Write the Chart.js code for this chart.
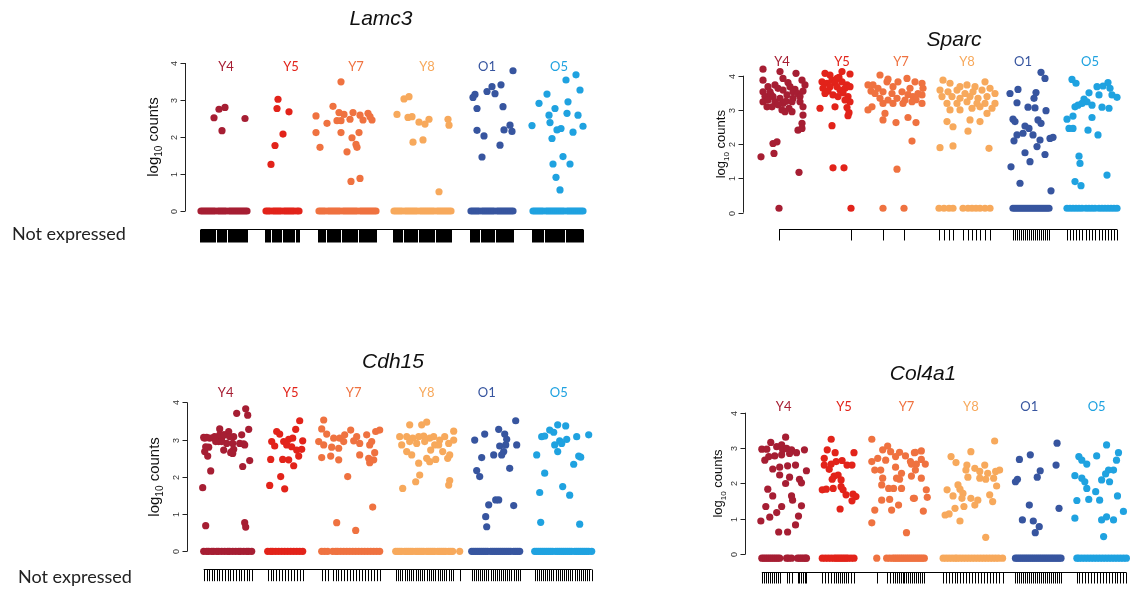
<!DOCTYPE html>
<html>
<head>
<meta charset="utf-8">
<script src="https://cdn.jsdelivr.net/npm/chart.js@4.4.0/dist/chart.umd.min.js"></script>
<style>
body { margin: 0; background: #fff; }
#wrap { position: relative; width: 1130px; height: 592px; overflow: hidden; }
canvas { position: absolute; }
.gene { position: absolute; font: italic 21px "Liberation Sans", Arial, sans-serif; color: #111; transform: translateX(-50%); white-space: nowrap; line-height: 1; }
.ne { position: absolute; font: 18px Lato, "Open Sans", sans-serif; color: #222; line-height: 1; white-space: nowrap; }
</style>
</head>
<body>
<div id="wrap">
  <canvas id="c1" width="600" height="260" style="left:0;top:0"></canvas>
  <canvas id="c2" width="530" height="260" style="left:600px;top:0"></canvas>
  <canvas id="c3" width="600" height="292" style="left:0;top:300px"></canvas>
  <canvas id="c4" width="530" height="292" style="left:600px;top:300px"></canvas>
  <div class="gene" style="left:381px;top:7px">Lamc3</div>
  <div class="gene" style="left:954px;top:28px">Sparc</div>
  <div class="gene" style="left:393px;top:350px">Cdh15</div>
  <div class="gene" style="left:923px;top:362px">Col4a1</div>
  <div class="ne" style="left:12px;top:224px">Not expressed</div>
  <div class="ne" style="left:18px;top:567px">Not expressed</div>
</div>
<script>
// groups and y axis
var groups = ['Y4', 'Y5', 'Y7', 'Y8', 'O1', 'O5'];
var groupColors = ['#a61e33', '#e2231a', '#ef7240', '#f7a95c', '#37559f', '#1fa2e0'];
var yTicks = [0, 1, 2, 3, 4];

// Lamc3: [cell position, log10 counts]
var lamc3Y4 = [[29,2.52],[34,2.75],[40,2.80],[37,2.17],[60,2.50]];
var lamc3Y5 = [[93,3.02],[92,2.77],[104,2.68],[98,2.08],[90,1.77],[86,1.26]];
var lamc3Y7 = [[156,3.49],[148,2.83],[131,2.57],[154,2.66],[159,2.61],[168,2.66],[175,2.59],[183,2.64],[142,2.37],[152,2.44],[156,2.44],[165,2.48],[178,2.46],[187,2.46],[185,2.55],[131,2.12],[156,2.12],[174,2.12],[135,1.72],[167,1.98],[162,1.60],[171,1.80],[172,1.72],[175,0.88],[166,0.80]];
var lamc3Y8 = [[219,3.03],[224,3.09],[212,2.61],[223,2.53],[227,2.55],[234,2.40],[240,2.35],[244,2.48],[263,2.48],[264,2.32],[238,1.92],[228,1.86],[254,0.52]];
var lamc3O1 = [[328,3.79],[316,3.41],[307,3.36],[302,3.23],[310,3.17],[290,3.15],[288,3.07],[292,2.77],[318,2.82],[325,2.32],[319,2.19],[327,2.15],[292,2.18],[299,2.03],[315,1.78],[297,1.46]];
var lamc3O5 = [[391,3.68],[381,3.54],[395,3.27],[362,3.16],[383,2.95],[354,2.91],[370,2.77],[382,2.64],[393,2.59],[364,2.59],[365,2.39],[347,2.31],[376,2.23],[372,2.19],[398,2.29],[388,2.13],[367,1.96],[378,1.47],[368,1.27],[385,1.27],[371,0.91],[375,0.57]];
// Lamc3 not expressed cells (positions)
var lamc3Y4Zero = [16,18,20,22,24,26,28,30,33,35,37,39,41,44,46,48,50,52,54,56,58,60,62];
var lamc3Y5Zero = [81,83,85,88,90,92,94,96,99,101,103,105,107,109,112,114];
var lamc3Y7Zero = [134,136,138,140,143,145,147,149,151,153,155,158,160,162,164,166,168,170,172,175,177,179,181,183,185,187,189,191];
var lamc3Y8Zero = [209,211,213,215,217,220,222,224,226,228,230,232,235,237,239,241,243,245,247,249,252,254,256,258,260,262,264,266];
var lamc3O1Zero = [286,288,290,292,294,297,299,301,303,305,307,309,312,314,316,318,320,322,324,326,328];
var lamc3O5Zero = [348,350,352,354,356,358,361,363,365,367,369,371,373,375,377,379,382,384,386,388,390,392,394,396,398];
var lamc3LabelX = [41, 106, 171, 242, 302, 374];

// Sparc
var sparcY4 = [[20,4.19],[37,4.12],[53,4.07],[20,3.87],[59,3.87],[62,3.73],[40,3.92],[45,3.80],[32,3.73],[25,3.68],[20,3.53],[27,3.53],[35,3.63],[40,3.58],[47,3.68],[52,3.60],[50,3.53],[55,3.48],[60,3.55],[28,3.45],[30,3.39],[37,3.34],[44,3.44],[50,3.34],[57,3.39],[22,3.40],[20,3.24],[25,3.29],[32,3.24],[40,3.19],[43,3.25],[49,3.24],[57,3.24],[35,3.15],[24,3.09],[29,3.09],[46,3.05],[39,3.00],[42,2.95],[49,2.95],[60,3.09],[60,2.85],[59,2.61],[55,2.41],[59,2.46],[30,2.02],[34,2.07],[31,1.73],[18,1.63],[56,1.18]];
var sparcY5 = [[82,4.07],[87,4.02],[99,4.12],[107,4.05],[96,3.95],[79,3.82],[84,3.78],[89,3.87],[94,3.92],[92,3.80],[99,3.82],[104,3.73],[80,3.63],[87,3.68],[94,3.68],[97,3.58],[102,3.63],[107,3.68],[85,3.55],[100,3.50],[82,3.48],[90,3.44],[95,3.39],[105,3.39],[107,3.24],[102,3.29],[77,3.05],[92,3.09],[104,3.07],[105,2.83],[106,2.92],[89,2.54],[90,1.31],[101,1.31]];
var sparcY7 = [[137,4.02],[130,3.73],[125,3.73],[135,3.63],[144,3.82],[145,3.90],[150,3.68],[155,3.82],[164,3.92],[172,3.82],[179,3.78],[180,3.63],[128,3.55],[132,3.48],[140,3.53],[149,3.48],[159,3.53],[167,3.63],[175,3.48],[165,3.45],[137,3.34],[145,3.29],[154,3.34],[162,3.29],[170,3.39],[179,3.44],[173,3.30],[129,3.09],[125,3.00],[140,3.19],[150,3.19],[160,3.19],[169,3.24],[179,3.19],[142,2.90],[140,2.71],[153,2.63],[165,2.78],[173,2.63],[169,2.09],[154,1.27]];
var sparcY8 = [[200,3.87],[207,3.78],[217,3.68],[224,3.73],[232,3.68],[242,3.82],[197,3.58],[205,3.53],[214,3.58],[222,3.48],[230,3.53],[239,3.58],[247,3.63],[252,3.48],[199,3.39],[209,3.39],[217,3.34],[227,3.39],[235,3.34],[244,3.39],[204,3.19],[214,3.19],[224,3.24],[234,3.19],[242,3.19],[252,3.19],[207,3.00],[217,3.00],[229,3.05],[237,3.09],[249,3.05],[244,2.90],[204,2.66],[210,2.51],[227,2.71],[237,2.66],[225,2.38],[197,1.90],[210,1.95],[246,1.88]];
var sparcO1 = [[298,4.10],[302,3.92],[275,3.60],[267,3.48],[293,3.51],[291,3.34],[274,3.21],[285,3.08],[292,3.06],[303,2.98],[270,2.73],[272,2.66],[282,2.53],[295,2.71],[298,2.61],[286,2.46],[280,2.32],[274,2.27],[271,2.10],[290,2.27],[297,2.12],[307,2.17],[310,2.20],[294,1.93],[282,1.75],[302,1.70],[287,1.49],[268,1.34],[277,0.86],[308,0.64]];
var sparcO5 = [[329,3.89],[333,3.78],[365,3.80],[354,3.68],[360,3.70],[367,3.63],[346,3.50],[356,3.44],[369,3.44],[374,3.37],[341,3.32],[344,3.24],[335,3.14],[332,3.09],[339,3.19],[349,3.14],[359,3.08],[366,3.05],[330,2.82],[324,2.73],[349,2.78],[326,2.46],[330,2.46],[345,2.41],[355,2.27],[336,1.65],[337,1.44],[364,1.10],[332,0.91],[338,0.79]];
var sparcY4Zero = [36];
var sparcY5Zero = [108];
var sparcY7Zero = [140, 161];
var sparcY8Zero = [196,201,206,210,220,225,229,233,237,242,247];
var sparcO1Zero = [270,272,274,276,278,280,282,284,286,288,290,292,294,296,298,300,302,304,306];
var sparcO5Zero = [324,327,330,333,336,339,343,346,349,352,356,359,362,365,368,371,374];
var sparcLabelX = [39, 99, 158, 224, 280, 347];

// Cdh15
var cdh15Y4 = [[59,3.83],[61,3.66],[50,3.71],[62,3.28],[33,3.29],[18,3.04],[23,3.04],[28,3.08],[35,3.04],[38,3.13],[42,3.22],[47,3.08],[55,3.13],[32,2.95],[40,2.90],[53,2.90],[57,2.89],[37,2.72],[44,2.65],[47,2.74],[22,2.80],[18,2.68],[21,2.56],[24,2.16],[63,2.44],[56,2.28],[16,1.71],[19,0.69],[58,0.77],[59,0.65],[17,3.06],[20,3.06],[27,3.06],[33,3.13],[37,3.13],[43,3.08],[46,2.90],[58,2.86],[45,2.68],[46,2.63],[19,2.81],[35,2.95],[29,2.95]];
var cdh15Y5 = [[113,3.51],[109,3.28],[90,3.22],[93,3.15],[102,3.01],[106,3.04],[85,2.95],[88,2.83],[97,2.95],[100,2.86],[105,2.81],[110,2.72],[115,2.74],[116,2.97],[112,2.56],[84,2.47],[96,2.47],[102,2.46],[94,2.01],[107,2.30],[83,1.77],[98,1.68]];
var cdh15Y7 = [[137,3.53],[135,3.29],[140,3.15],[132,2.95],[137,2.86],[147,3.04],[153,3.04],[158,3.13],[164,3.26],[170,3.08],[180,3.13],[189,3.22],[193,3.26],[145,2.80],[152,2.77],[157,2.95],[167,2.97],[173,2.90],[183,2.86],[188,2.65],[135,2.52],[144,2.56],[152,2.46],[173,2.59],[182,2.50],[183,2.38],[187,2.46],[185,2.95],[161,2.01],[150,0.77],[169,0.56],[186,1.19]];
var cdh15Y8 = [[240,3.47],[235,3.40],[223,3.40],[213,3.08],[220,3.08],[226,3.04],[232,3.08],[237,3.10],[243,3.04],[247,3.08],[253,2.99],[258,3.08],[267,3.23],[267,2.99],[215,2.86],[223,2.95],[230,2.90],[238,2.95],[248,2.86],[252,2.86],[262,2.90],[220,2.68],[225,2.59],[244,2.72],[256,2.68],[263,2.59],[232,2.37],[240,2.50],[243,2.41],[249,2.47],[261,2.50],[233,2.05],[229,1.87],[216,1.69],[263,1.90],[262,1.78]];
var cdh15O1 = [[329,3.51],[312,3.28],[298,3.15],[318,3.15],[288,2.99],[320,3.01],[330,2.86],[313,2.83],[319,2.86],[307,2.59],[317,2.68],[315,2.59],[295,2.52],[323,2.23],[290,2.17],[293,2.01],[309,1.38],[312,1.38],[302,1.25],[327,1.23],[299,0.93],[300,0.66]];
var cdh15O5 = [[371,3.40],[379,3.37],[363,3.26],[367,3.20],[355,3.08],[358,3.10],[373,2.97],[380,3.01],[390,3.08],[402,3.13],[368,2.86],[375,2.90],[371,2.68],[350,2.59],[392,2.56],[394,2.53],[387,2.34],[358,2.10],[376,1.74],[353,1.58],[383,1.51],[354,0.78],[393,0.73]];
var cdh15Y4Zero = [17,20,22,25,27,30,32,35,38,41,43,46,49,52,54,57,60,62,65];
var cdh15Y5Zero = [81,84,86,89,92,95,98,101,104,107,110,113,116];
var cdh15Y7Zero = [135,138,141,146,149,151,154,157,160,163,166,169,172,175,178,181,184,187,190,193];
var cdh15Y8Zero = [209,211,213,215,218,220,222,224,226,229,231,233,235,237,240,242,244,246,248,251,253,255,257,259,262,264,266,273];
var cdh15O1Zero = [285,287,289,291,293,295,297,299,301,304,306,308,310,312,314,316,318,320,322,324,327,329,331,333];
var cdh15O5Zero = [348,350,352,354,356,358,360,362,364,366,369,371,373,375,377,379,381,383,385,388,390,392,394,396,398,400,402,405];
var cdh15LabelX = [39, 104, 167, 240, 300, 372];

// Col4a1
var col4a1Y4 = [[41,3.31],[26,3.16],[17,2.97],[22,2.97],[32,3.04],[37,3.09],[38,2.95],[42,2.99],[47,2.95],[52,2.87],[60,2.95],[20,2.66],[24,2.76],[30,2.78],[37,2.81],[45,2.85],[51,2.52],[28,2.41],[35,2.46],[43,2.50],[62,2.36],[35,2.24],[45,2.18],[55,2.12],[57,2.02],[41,2.00],[23,1.84],[28,1.65],[47,1.65],[48,1.53],[21,1.35],[37,1.35],[32,1.18],[57,1.37],[54,1.08],[25,1.05],[16,0.94],[51,0.83],[34,0.63],[43,0.63]];
var col4a1Y5 = [[87,3.25],[83,2.95],[91,2.87],[110,2.87],[80,2.71],[80,2.52],[87,2.55],[92,2.62],[98,2.65],[103,2.52],[108,2.52],[85,2.40],[90,2.21],[94,2.24],[88,2.12],[97,2.10],[78,1.82],[82,1.84],[89,1.86],[97,1.91],[99,1.82],[102,1.68],[109,1.70],[112,1.63],[108,1.51],[96,1.28]];
var col4a1Y7 = [[128,3.25],[144,3.06],[139,2.95],[147,2.90],[156,2.88],[162,2.78],[171,2.87],[128,2.62],[134,2.71],[142,2.66],[152,2.76],[167,2.62],[173,2.55],[131,2.38],[137,2.38],[152,2.46],[158,2.29],[168,2.21],[139,2.15],[153,2.15],[156,2.12],[145,1.86],[150,1.86],[158,1.86],[138,1.96],[131,1.25],[146,1.55],[148,1.25],[155,1.39],[138,1.53],[128,0.89],[163,0.61],[170,1.58],[178,2.92],[172,2.88],[178,2.68],[182,2.55],[168,2.55],[172,2.38],[178,2.15],[183,1.82],[184,1.61],[171,1.58],[180,1.22]];
var col4a1Y8 = [[252,3.20],[208,2.76],[213,2.59],[228,2.90],[224,2.52],[232,2.43],[242,2.52],[223,2.38],[225,2.18],[237,2.34],[245,2.29],[253,2.34],[257,2.38],[237,2.15],[243,2.12],[251,2.15],[254,1.93],[215,1.96],[217,1.84],[220,1.72],[204,1.82],[210,1.65],[219,1.58],[228,1.58],[235,1.53],[247,1.68],[250,1.49],[232,1.39],[221,1.35],[212,1.30],[202,1.11],[206,1.14],[217,0.94],[243,0.48]];
var col4a1O1 = [[315,3.14],[314,2.52],[288,2.81],[277,2.68],[298,2.36],[295,2.18],[275,2.12],[273,2.05],[287,1.39],[317,1.30],[280,0.97],[291,0.94],[297,0.78],[293,0.61]];
var col4a1O5 = [[365,3.09],[377,2.87],[355,2.78],[337,2.76],[340,2.66],[345,2.55],[375,2.66],[367,2.38],[372,2.38],[364,2.27],[333,2.22],[340,2.15],[343,2.05],[360,2.10],[368,2.05],[345,1.86],[354,1.77],[335,1.52],[347,1.55],[358,1.53],[376,1.65],[382,1.21],[333,1.02],[365,1.06],[360,0.97],[372,0.97],[362,0.50]];
var col4a1Y4Zero = [17,19,21,23,25,27,29,31,33,35,42,44,47,53,55,57,59,61,62];
var col4a1Y5Zero = [78,81,84,87,90,92,94,96,98,100,102,104,107,110];
var col4a1Y7Zero = [133,143,146,149,151,153,155,157,159,161,163,165,167,169,171,173,175,177,179,181];
var col4a1Y8Zero = [200,203,206,209,212,214,217,220,223,226,229,232,235,238,241,244,247,250,253,256,260];
var col4a1O1Zero = [273,275,277,279,281,283,285,287,289,291,293,295,297,299,301,303,305,307,309,311,313,315,317,319];
var col4a1O5Zero = [335,337,340,343,346,349,352,355,358,361,364,367,370,373,376,379,382,385];
var col4a1LabelX = [39, 100, 163, 228, 287, 355];

var yMin = -0.3, yMax = 4.3;

// layout of each panel (page pixels)
var panels = [
    { id: 'c1', left: 0, top: 0, width: 600, height: 260, axisX: 185, y0: 211, unit: 37, xMax: 410,
      zeroY: 0, labelY: 3.89, rugOff: 18, rugLen: 13, rugWidth: 2, titleOff: 33, titleSize: 15,
      points: [lamc3Y4, lamc3Y5, lamc3Y7, lamc3Y8, lamc3O1, lamc3O5],
      zeros: [lamc3Y4Zero, lamc3Y5Zero, lamc3Y7Zero, lamc3Y8Zero, lamc3O1Zero, lamc3O5Zero],
      labelX: lamc3LabelX },
    { id: 'c2', left: 600, top: 0, width: 530, height: 260, axisX: 743, y0: 212.7, unit: 34.25, xMax: 382,
      zeroY: 0.13, labelY: 4.41, rugOff: 16.6, rugLen: 11, rugWidth: 1, titleOff: 23, titleSize: 13,
      points: [sparcY4, sparcY5, sparcY7, sparcY8, sparcO1, sparcO5],
      zeros: [sparcY4Zero, sparcY5Zero, sparcY7Zero, sparcY8Zero, sparcO1Zero, sparcO5Zero],
      labelX: sparcLabelX },
    { id: 'c3', left: 0, top: 300, width: 600, height: 292, axisX: 186.7, y0: 551.3, unit: 37.2, xMax: 408,
      zeroY: 0, labelY: 4.26, rugOff: 17.7, rugLen: 11.7, rugWidth: 1, titleOff: 34, titleSize: 15,
      points: [cdh15Y4, cdh15Y5, cdh15Y7, cdh15Y8, cdh15O1, cdh15O5],
      zeros: [cdh15Y4Zero, cdh15Y5Zero, cdh15Y7Zero, cdh15Y8Zero, cdh15O1Zero, cdh15O5Zero],
      labelX: cdh15LabelX },
    { id: 'c4', left: 600, top: 300, width: 530, height: 292, axisX: 745, y0: 554.3, unit: 35.4, xMax: 385,
      zeroY: -0.11, labelY: 4.16, rugOff: 17.4, rugLen: 11, rugWidth: 1, titleOff: 28, titleSize: 13,
      points: [col4a1Y4, col4a1Y5, col4a1Y7, col4a1Y8, col4a1O1, col4a1O5],
      zeros: [col4a1Y4Zero, col4a1Y5Zero, col4a1Y7Zero, col4a1Y8Zero, col4a1O1Zero, col4a1O5Zero],
      labelX: col4a1LabelX }
];

function rPlot(p) {
    return {
        id: 'rPlot',
        afterDatasetsDraw: function(chart) {
            var ctx = chart.ctx, xs = chart.scales.x, ys = chart.scales.y;
            var ax = Math.round(xs.getPixelForValue(0)) + 0.5;
            ctx.save();
            ctx.strokeStyle = '#222';
            ctx.fillStyle = '#333';
            ctx.lineWidth = 1;
            // y axis, R style
            ctx.beginPath();
            ctx.moveTo(ax, ys.getPixelForValue(yTicks[yTicks.length - 1]));
            ctx.lineTo(ax, ys.getPixelForValue(yTicks[0]));
            ctx.stroke();
            ctx.font = '9px "Liberation Sans", Arial, sans-serif';
            ctx.textAlign = 'center';
            ctx.textBaseline = 'middle';
            yTicks.forEach(function(t) {
                var py = Math.round(ys.getPixelForValue(t)) + 0.5;
                ctx.beginPath();
                ctx.moveTo(ax - 5, py);
                ctx.lineTo(ax, py);
                ctx.stroke();
                ctx.save();
                ctx.translate(ax - 11, py);
                ctx.rotate(-Math.PI / 2);
                ctx.fillText(String(t), 0, 0);
                ctx.restore();
            });
            // axis title log10 counts
            var big = p.titleSize + 'px "Liberation Sans", Arial, sans-serif';
            var small = Math.round(p.titleSize * 0.65) + 'px "Liberation Sans", Arial, sans-serif';
            ctx.font = big;
            var w1 = ctx.measureText('log').width, w3 = ctx.measureText(' counts').width;
            ctx.font = small;
            var w2 = ctx.measureText('10').width;
            var mid = (ys.getPixelForValue(yTicks[0]) + ys.getPixelForValue(yTicks[yTicks.length - 1])) / 2;
            ctx.save();
            ctx.translate(ax - p.titleOff, mid);
            ctx.rotate(-Math.PI / 2);
            ctx.fillStyle = '#111';
            ctx.textAlign = 'left';
            ctx.textBaseline = 'alphabetic';
            var sx = -(w1 + w2 + w3) / 2, base = p.titleSize * 0.35;
            ctx.font = big;
            ctx.fillText('log', sx, base);
            ctx.font = small;
            ctx.fillText('10', sx + w1, base + p.titleSize * 0.3);
            ctx.font = big;
            ctx.fillText(' counts', sx + w1 + w2, base);
            ctx.restore();
            // group labels
            ctx.font = '13px Lato, "Open Sans", sans-serif';
            ctx.textAlign = 'center';
            ctx.textBaseline = 'middle';
            groups.forEach(function(g, i) {
                ctx.fillStyle = groupColors[i];
                ctx.fillText(g, xs.getPixelForValue(p.labelX[i]), ys.getPixelForValue(p.labelY));
            });
            // rug of non-expressing cells
            var all = [].concat.apply([], p.zeros);
            var ry = Math.round(ys.getPixelForValue(0) + p.rugOff) + 0.5;
            ctx.strokeStyle = '#000';
            ctx.beginPath();
            ctx.moveTo(xs.getPixelForValue(Math.min.apply(null, all)), ry);
            ctx.lineTo(xs.getPixelForValue(Math.max.apply(null, all)), ry);
            ctx.stroke();
            ctx.lineWidth = p.rugWidth;
            var shift = p.rugWidth % 2 ? 0.5 : 0;
            ctx.beginPath();
            all.forEach(function(v) {
                var px = Math.round(xs.getPixelForValue(v)) + shift;
                ctx.moveTo(px, ry);
                ctx.lineTo(px, ry + p.rugLen);
            });
            ctx.stroke();
            ctx.restore();
        }
    };
}

panels.forEach(function(p) {
    var padL = p.axisX - p.left;
    var padR = p.width - padL - p.xMax;
    var padT = (p.y0 - p.unit * yMax) - p.top;
    var padB = p.top + p.height - (p.y0 - p.unit * yMin);
    var datasets = [];
    groups.forEach(function(g, i) {
        datasets.push({
            label: g + ' not expressed',
            data: p.zeros[i].map(function(v) { return { x: v, y: p.zeroY }; }),
            backgroundColor: groupColors[i],
            borderWidth: 0,
            pointRadius: 3.6,
            pointHoverRadius: 3.6,
            clip: false
        });
        datasets.push({
            label: g,
            data: p.points[i].map(function(d) { return { x: d[0], y: d[1] }; }),
            backgroundColor: groupColors[i],
            borderWidth: 0,
            pointRadius: 3.6,
            pointHoverRadius: 3.6,
            clip: false
        });
    });
    new Chart(document.getElementById(p.id), {
        type: 'scatter',
        data: { datasets: datasets },
        options: {
            responsive: false,
            animation: false,
            devicePixelRatio: 1,
            events: [],
            layout: { padding: { left: padL, right: padR, top: padT, bottom: padB } },
            plugins: { legend: { display: false }, tooltip: { enabled: false } },
            scales: {
                x: { type: 'linear', display: false, min: 0, max: p.xMax },
                y: { type: 'linear', display: false, min: yMin, max: yMax }
            }
        },
        plugins: [rPlot(p)]
    });
});
</script>
</body>
</html>
